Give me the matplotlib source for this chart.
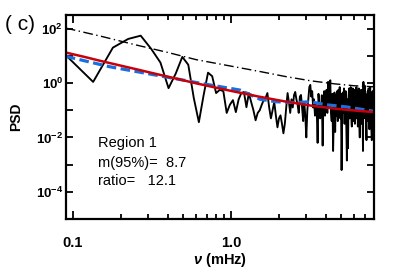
import numpy as np
import matplotlib
matplotlib.use("Agg")
import matplotlib.pyplot as plt
from matplotlib.ticker import FixedLocator, FuncFormatter

plt.rcParams['font.family'] = ['Liberation Sans', 'DejaVu Sans']
plt.rcParams['mathtext.fontset'] = 'custom'
plt.rcParams['mathtext.rm'] = 'Liberation Sans:bold'
plt.rcParams['mathtext.bf'] = 'Liberation Sans:bold'
plt.rcParams['mathtext.it'] = 'Liberation Sans:italic:bold'

# frequency bins (mHz): bin width and bin numbers
df = 0.0447
bins = np.arange(2, 180)

# power spectrum, log10 values read per bin
psd_log = [
    1.04, 0.04, 1.30, 1.62, 1.74, 1.25, 0.75, -0.19, 0.35, 0.96,
    0.67, -0.55, -1.44, -0.45, 0.38, 0.25, -0.37, -0.25, -0.30, -1.10,
    -0.80, -0.63, -1.07, -0.60, -0.37, -0.33, -0.89, -0.37, -0.70, -1.00,
    -1.37, -1.10, -1.00, -0.80, -0.63, -0.55, -0.37, -0.90, -1.30, -1.00,
    -0.70, -1.20, -1.63, -1.30, -1.19, -1.50, -1.85, -1.50, -0.90, -0.37,
    -0.70, -1.10, -0.60, -0.90, -0.45, -0.33, -0.60, -0.80, -1.10, -0.50,
    -0.44, -0.90, -1.40, -0.70, -1.20, -2.00, -1.00, -0.60, -0.15, -0.07,
    -0.50, -0.30, -0.90, -0.60, -1.20, -0.80, -1.00, -2.20, -0.40, -0.80,
    -1.30, -1.00, -0.45, -2.30, -0.60, -0.30, -1.20, -0.40, -0.25, -1.10,
    0.04, -0.90, -0.35, 0.10, -1.10, -1.40, -0.40, -2.50, -1.20, -0.35,
    -1.80, -0.45, -1.20, -0.30, -1.40, -0.25, -0.90, -0.15, -1.30, -0.40,
    -3.20, -1.30, -0.35, -1.10, -0.20, -1.50, -0.80, -0.30, -1.70, -2.85,
    -0.60, -2.40, -0.50, -0.20, -1.30, -0.40, -0.15, -1.20, -1.60, -0.35,
    -0.20, -1.40, -0.45, -0.25, -1.50, -0.35, -1.00, -0.15, -1.30, -0.30,
    -1.60, -0.50, -0.20, -1.40, -2.00, -0.40, -1.10, -0.25, -1.50, -0.35,
    -1.00, -2.50, 0.04, -0.90, -0.25, -0.10, -1.30, -0.40, -1.50, -2.10,
    -0.45, -1.10, -0.30, -1.40, -0.20, -1.00, -1.70, -0.35, -0.15, -1.30,
    -0.45, -1.70, -2.10, -0.50, -0.30, -1.30, -0.40, -0.30,
]

# fitted model (red)
fit_freq = [0.09, 0.12, 0.15, 0.2, 0.25, 0.3, 0.4, 0.6, 0.8, 1.0, 1.5, 2.2, 2.7, 3.2, 4.5, 6.0, 8.0]
fit_log = [1.12, 0.95, 0.81, 0.64, 0.51, 0.40, 0.23, -0.01, -0.17, -0.29, -0.50, -0.68, -0.76, -0.83, -0.94, -1.01, -1.07]

# smoothed spectrum (blue dashed)
smooth_freq = [0.09, 0.17, 0.35, 0.64, 1.14, 1.53, 1.94, 2.5, 3.16, 4.0, 5.4, 8.0]
smooth_log = [0.98, 0.60, 0.27, -0.01, -0.26, -0.60, -0.69, -0.72, -0.69, -0.80, -0.88, -1.04]

# 95% confidence level (dash-dot)
conf_freq = [0.09, 0.15, 0.25, 0.4, 0.6, 1.0, 1.5, 2.2, 3.2, 4.5, 6.0, 8.0]
conf_log = [2.02, 1.72, 1.40, 1.12, 0.86, 0.62, 0.43, 0.24, 0.08, -0.03, -0.10, -0.14]

freq = df * bins
psd = 10.0 ** np.array(psd_log)

fig = plt.figure(figsize=(3.93, 2.75), dpi=100)
ax = fig.add_axes([66 / 393, 1 - 219 / 275, 308 / 393, 204 / 275])

ax.plot(freq, psd, color='black', lw=1.35)
ax.plot(conf_freq, 10.0 ** np.array(conf_log), color='black', lw=1.0,
        dashes=(7, 2.5, 1, 2.5))
ax.plot(smooth_freq, 10.0 ** np.array(smooth_log), color='#1a6fdf', lw=2.3,
        dashes=(3, 1.4))
ax.plot(fit_freq, 10.0 ** np.array(fit_log), color='#c8000a', lw=1.8)

ax.set_xscale('log')
ax.set_yscale('log')
ax.set_xlim(0.0903, 8.03)
ax.set_ylim(1e-5, 10 ** 2.5)

for s in ax.spines.values():
    s.set_linewidth(1.6)

ax.xaxis.set_major_locator(FixedLocator([0.1, 1.0]))
ax.xaxis.set_minor_locator(FixedLocator([0.2, 0.3, 0.4, 0.5, 0.6, 0.7, 0.8, 0.9,
                                         2, 3, 4, 5, 6, 7, 8]))
ax.xaxis.set_major_formatter(FuncFormatter(lambda v, p: '%.1f' % v))
ax.xaxis.set_minor_formatter(FuncFormatter(lambda v, p: ''))

ax.yaxis.set_major_locator(FixedLocator([10.0 ** e for e in range(-5, 3)]))
ax.yaxis.set_minor_locator(FixedLocator([]))


def ylab(v, p):
    e = int(round(np.log10(v)))
    if e % 2 == 0 and e > -5:
        return r'$\mathbf{10^{%d}}$' % e
    return ''


ax.yaxis.set_major_formatter(FuncFormatter(ylab))

ax.tick_params(which='both', direction='in', top=True, right=True, width=1.3)
ax.tick_params(which='major', length=6)
ax.tick_params(which='minor', length=3.5)
ax.tick_params(axis='x', which='major', pad=12, labelsize=10.5)
ax.tick_params(axis='y', which='major', pad=2, labelsize=9.5, length=5)
for lab in ax.get_xticklabels():
    lab.set_fontweight('bold')

ax.set_xlabel(r'$\nu$ (mHz)', fontsize=10.5, fontweight='bold', labelpad=1)
ax.set_ylabel('PSD', fontsize=10, fontweight='bold', labelpad=9)

fig.text(5 / 393, 1 - 30 / 275, '( c)', fontsize=15)

ax.text(0.104, 0.353, 'Region 1', transform=ax.transAxes, fontsize=10.5)
ax.text(0.104, 0.255, 'm(95%)=  8.7', transform=ax.transAxes, fontsize=10.5)
ax.text(0.104, 0.167, 'ratio=   12.1', transform=ax.transAxes, fontsize=10.5)

fig.savefig('out.png', dpi=100)
